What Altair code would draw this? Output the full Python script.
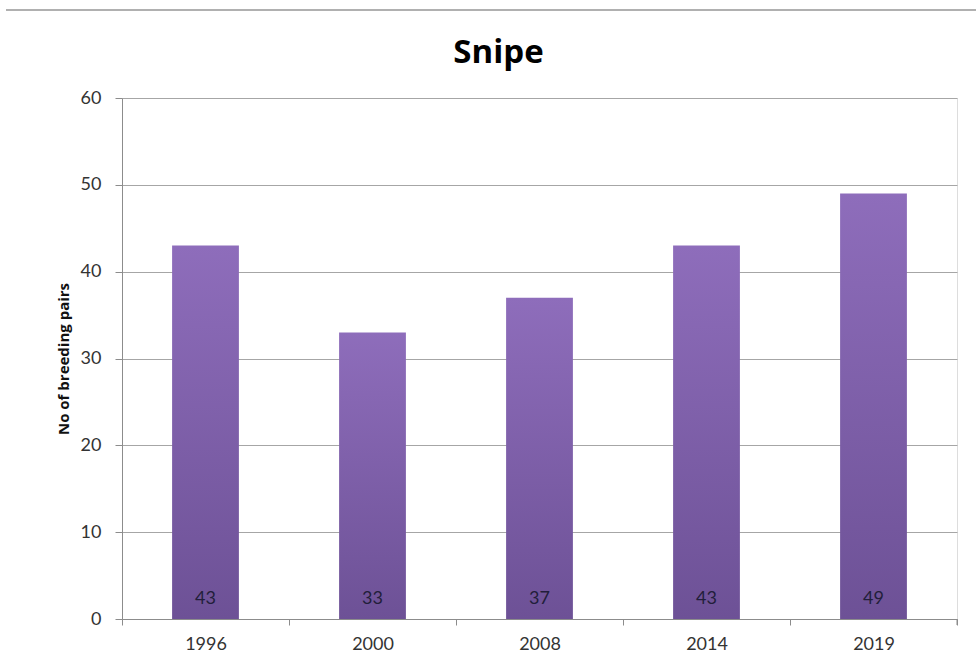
import altair as alt
import pandas as pd

# Snipe breeding pairs by survey year
years = ["1996", "2000", "2008", "2014", "2019"]
pairs = [43, 33, 37, 43, 49]

df = pd.DataFrame({"year": years, "pairs": pairs})

W, H = 835, 521
FONT = "Lato"
LINE_Y = -88  # separator line above the chart, in plot pixels

x_enc = alt.X(
    "year:N",
    sort=years,
    scale=alt.Scale(paddingInner=0, paddingOuter=0),
    axis=alt.Axis(
        title=None,
        labelAngle=0,
        labelFont=FONT,
        labelFontSize=18,
        labelColor="#333333",
        labelPadding=10,
        tickBand="extent",
        tickSize=6,
        tickColor="#8c8c8c",
        domainColor="#8c8c8c",
        grid=False,
    ),
)

y_enc = alt.Y(
    "pairs:Q",
    scale=alt.Scale(domain=[0, 60], nice=False),
    axis=alt.Axis(
        title="No of breeding pairs",
        titleFont="Open Sans",
        titleFontSize=15,
        titleFontWeight="bold",
        titleColor="#111111",
        titlePadding=9,
        values=[0, 10, 20, 30, 40, 50, 60],
        labelFont=FONT,
        labelFontSize=18,
        labelColor="#333333",
        labelPadding=14,
        tickSize=7,
        tickColor="#8c8c8c",
        domainColor="#8c8c8c",
        gridColor="#a6a6a6",
        gridWidth=1,
    ),
)

bars = alt.Chart(df).mark_bar(
    width=alt.RelativeBandSize(0.4),
    color=alt.Gradient(
        gradient="linear",
        x1=0, y1=0, x2=0, y2=1,
        stops=[
            alt.GradientStop(color="#8e6dbb", offset=0),
            alt.GradientStop(color="#6d5196", offset=1),
        ],
    ),
).encode(x=x_enc, y=y_enc)

labels = alt.Chart(df).mark_text(
    font=FONT,
    fontSize=18,
    color="#221e3a",
    baseline="middle",
    dy=-20,
).encode(
    x=alt.X("year:N", sort=years),
    y=alt.datum(0),
    text="pairs:Q",
)

# closing tick at the right end of the category axis
end_tick = alt.Chart(df).transform_filter(
    alt.datum.year == years[-1]
).mark_rule(color="#8c8c8c").encode(
    x=alt.X("year:N", sort=years, bandPosition=1),
    y=alt.value(H),
    y2=alt.value(H + 6),
)

# thin separator line above the chart
top_line = alt.Chart(df).mark_rule(color="#b0b0b0", strokeWidth=2).encode(
    x=alt.value(-116),
    x2=alt.value(854),
    y=alt.value(LINE_Y),
)

# the title sits relative to the top of all marks (the separator line),
# so a negative offset brings it back down below that line
chart = alt.layer(bars, labels, end_tick, top_line).properties(
    width=W,
    height=H,
    title=alt.TitleParams(
        "Snipe",
        font="Open Sans",
        fontSize=33,
        fontWeight="bold",
        color="#000000",
        anchor="middle",
        baseline="bottom",
        offset=-94,
        dx=-41,
    ),
    autosize=alt.AutoSizeParams(type="none"),
    padding={"left": 122, "top": 98, "right": 19, "bottom": 43},
).configure_view(stroke=None).configure(background="#ffffff")

chart.save("out.html", embed_options={"renderer": "svg", "actions": False})
